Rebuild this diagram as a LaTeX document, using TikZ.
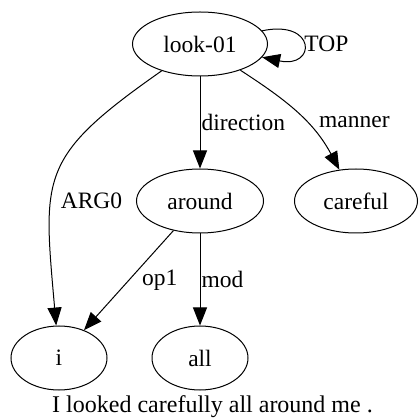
\documentclass[tikz,border=0pt]{standalone}
\usepackage{fontspec}
\setmainfont{Liberation Serif}
\usetikzlibrary{shapes,arrows.meta,positioning}
\tikzstyle{concept} = [ellipse, draw, line width=1pt, minimum height=64pt, inner sep=0pt, font=\fontsize{23.5}{28}\selectfont]
\tikzstyle{line} = [draw, line width=1pt, -{Triangle[length=18pt, width=14pt]}]
\tikzstyle{rel} = [font=\fontsize{23.5}{28}\selectfont, inner sep=1pt]

\begin{document}
\begin{tikzpicture}[x=1pt, y=1pt, node distance=157pt]
        \useasboundingbox (0,0) rectangle (420,-419);
        % Place nodes
        \node [concept, minimum width=135pt] (look) at (200,-44) {look-01};
        \node [concept, minimum width=127pt, below of=look] (around) {around};
        \node [concept, minimum width=123pt, right of=around, node distance=156pt] (careful) {careful};
        \node [concept, minimum width=96pt, below of=around] (all) {all};
        \node [concept, minimum width=96pt, left of=all, node distance=141pt] (i) {i};
        \node [rel, anchor=base, font=\fontsize{24}{28}\selectfont] (sentence) at (212.5,-412) {I looked carefully all around me .};
        % Draw edges
        \path [line] (look) to [out=12, in=-12, looseness=5.4] node [rel, right] {TOP} (look);
        \path [line] (look) -- node [rel, right] {direction} (around);
        \path [line] (look) to [out=-33, in=118] node [rel, pos=0.6, right=11pt] {manner} (careful);
        \path [line] (look) to [out=215, in=95, looseness=1.4] node [rel, pos=0.62, right=8pt] {ARG0} (i);
        \path [line] (around) -- node [rel, right=12pt] {op1} (i);
        \path [line] (around) -- node [rel, right] {mod} (all);
\end{tikzpicture}
\end{document}
